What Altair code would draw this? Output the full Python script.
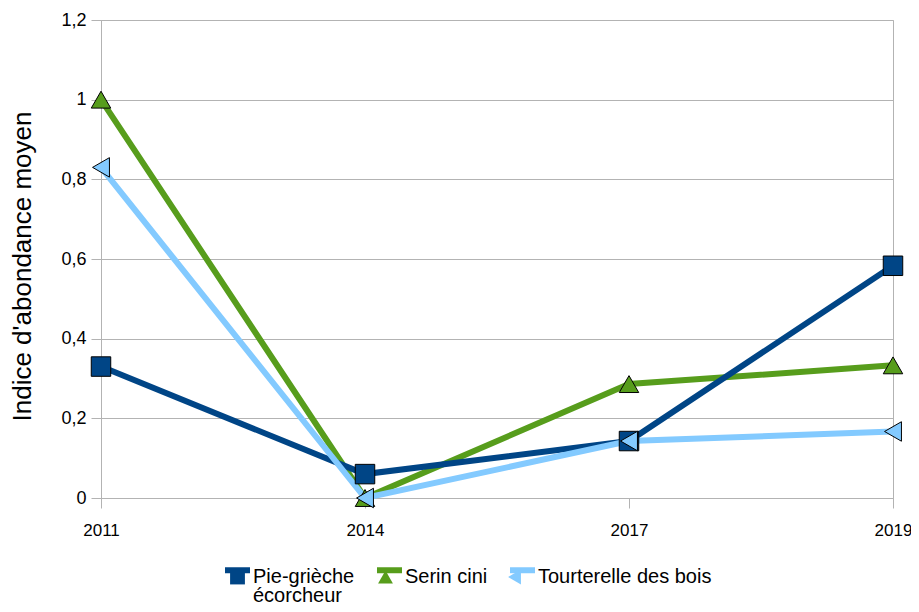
import altair as alt
import pandas as pd

years = ["2011", "2014", "2017", "2019"]
series_names = ["Pie-grièche écorcheur", "Serin cini", "Tourterelle des bois"]
pie = [0.33, 0.06, 0.143, 0.583]
serin = [1.0, 0.0, 0.286, 0.333]
tourterelle = [0.83, 0.0, 0.143, 0.167]
colors = ["#004586", "#579d1c", "#83caff"]
shapes = ["square", "triangle-up", "triangle-left"]
y_ticks = [0, 0.2, 0.4, 0.6, 0.8, 1.0, 1.2]

# drawing order (back to front): Serin cini, Pie-grièche, Tourterelle
draw_order = [("Serin cini", serin), ("Pie-grièche écorcheur", pie), ("Tourterelle des bois", tourterelle)]
rows = []
for name, vals in draw_order:
    for yr, v in zip(years, vals):
        rows.append({"year": yr, "value": v, "series": name, "serie_ligne": name})
df = pd.DataFrame(rows)

FONT = "Liberation Sans"
GRAY = "#b3b3b3"
label_expr = ("datum.label == 'Pie-grièche écorcheur' ? ['Pie-grièche', 'écorcheur'] "
              ": [datum.label, '']")

x_enc = alt.X(
    "year:O",
    scale=alt.Scale(type="point", padding=0),
    axis=alt.Axis(title=None, labelAngle=0, labelFont=FONT, labelFontSize=17,
                  labelColor="black", tickColor=GRAY, tickSize=10, domainColor=GRAY,
                  labelPadding=14, grid=False),
)
y_enc = alt.Y(
    "value:Q",
    scale=alt.Scale(domain=[0, 1.2], nice=False),
    axis=alt.Axis(values=y_ticks,
                  labelExpr="replace(format(datum.value, '~g'), '.', ',')",
                  title="Indice d'abondance moyen", titleFont=FONT, titleFontSize=26,
                  titleFontWeight="normal", titleColor="black", titleX=-79, titleY=246,
                  titleBaseline="middle",
                  labelFont=FONT, labelFontSize=18, labelColor="black",
                  gridColor=GRAY, tickColor=GRAY, tickSize=10, domainColor=GRAY,
                  labelPadding=5),
)

legA = alt.Legend(
    title=None, orient="none", direction="horizontal", legendX=121, legendY=547,
    padding=0, symbolType="M-1,-1.0H1", symbolSize=625, symbolStrokeWidth=6,
    labelFont=FONT, labelFontSize=20, labelColor="black", labelBaseline="alphabetic",
    labelOffset=0, labelExpr=label_expr, columnPadding=10, labelLimit=300,
)
legB = alt.Legend(
    title=None, orient="none", direction="horizontal", legendX=121, legendY=547,
    padding=0, symbolSize=220, symbolStrokeColor="black", symbolStrokeWidth=1,
    symbolOffset=5.5, symbolOpacity=1,
    labelFont=FONT, labelFontSize=20, labelColor="black", labelBaseline="alphabetic",
    labelOffset=11, labelOpacity=0, labelExpr=label_expr, columnPadding=10, labelLimit=300,
)

lines = alt.Chart(df).mark_line(strokeWidth=6).encode(
    x=x_enc, y=y_enc,
    stroke=alt.Stroke("serie_ligne:N", scale=alt.Scale(range=colors), legend=legA),
)
points = alt.Chart(df).mark_point(filled=True, size=380, stroke="black", strokeWidth=1, opacity=1).encode(
    x=x_enc, y=y_enc,
    color=alt.Color("series:N", scale=alt.Scale(domain=series_names, range=colors), legend=legB),
    shape=alt.Shape("series:N", scale=alt.Scale(domain=series_names, range=shapes), legend=legB),
)

chart = alt.layer(lines, points).properties(
    width=792, height=478,
    autosize=alt.AutoSizeParams(type="none"),
    padding={"left": 93, "top": 12, "right": 18, "bottom": 106},
    background="white",
).configure(
    view=alt.ViewConfig(stroke=GRAY),
    style={"guide-label": {"lineHeight": 19}},
)

chart.save("out.html", embed_options={"renderer": "svg", "actions": False})
